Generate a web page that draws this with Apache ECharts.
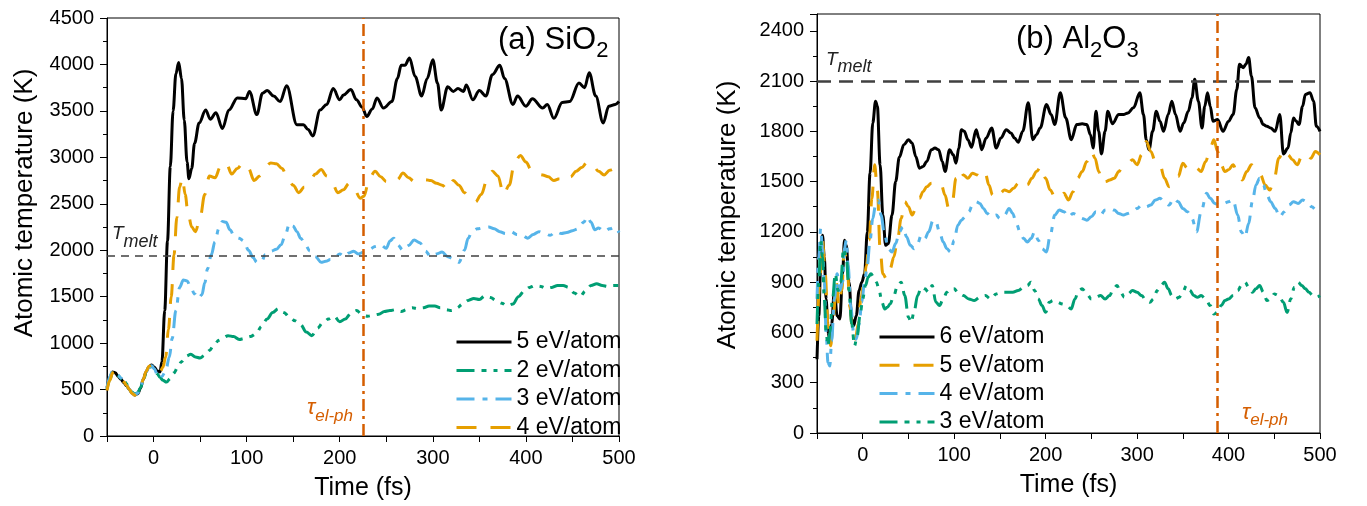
<!DOCTYPE html>
<html>
<head>
<meta charset="utf-8">
<title>Atomic temperature vs time</title>
<script src="https://cdn.jsdelivr.net/npm/echarts@6/dist/echarts.min.js"></script>
<style>
  html, body { margin: 0; padding: 0; background: #fff; }
  #chart { width: 1367px; height: 506px; }
</style>
</head>
<body>
<div id="chart"></div>
<script>
// ---- (a) SiO2 : [time (fs), atomic temperature (K)] ----
const sio2_5eV = [[-50,520],[-47,630],[-44,690],[-41,680],[-38,640],[-35,610],[-32,575],[-29,540],[-26,500],[-23,460],[-20,442],[-17,455],[-14,515],[-11,610],[-8,690],[-5,745],[-2,764],[1,740],[4,700],[7,690],[9,800],[12,1350],[15,2100],[18,2900],[21,3500],[24,3900],[27,4020],[30,3850],[33,3400],[36,2950],[38,2770],[41,2880],[44,3150],[49,3370],[56,3510],[61,3410],[67,3480],[74,3310],[81,3510],[90,3640],[99,3630],[103,3710],[111,3460],[117,3690],[122,3720],[129,3660],[136,3600],[143,3770],[154,3350],[161,3350],[166,3300],[171,3230],[179,3510],[186,3570],[193,3740],[200,3620],[204,3670],[212,3730],[218,3620],[224,3540],[229,3440],[235,3520],[240,3640],[247,3530],[256,3600],[262,3850],[266,3990],[270,3990],[275,4070],[281,3870],[288,3660],[294,3850],[300,4050],[305,3800],[309,3510],[316,3760],[322,3710],[327,3740],[333,3710],[336,3780],[343,3620],[350,3720],[357,3660],[364,3890],[372,3990],[377,3850],[386,3570],[391,3660],[400,3550],[407,3630],[418,3530],[423,3570],[430,3420],[439,3590],[447,3600],[457,3800],[463,3750],[468,3910],[475,3660],[483,3370],[489,3550],[496,3570],[500,3600]];
const sio2_2eV = [[-50,500],[-47,610],[-44,680],[-41,690],[-38,650],[-35,620],[-32,630],[-29,560],[-26,510],[-23,470],[-20,450],[-17,465],[-14,520],[-11,600],[-8,680],[-5,735],[-2,750],[1,720],[4,670],[7,630],[10,600],[14,580],[18,620],[22,680],[26,740],[30,800],[35,860],[40,880],[45,850],[50,840],[55,870],[60,920],[65,980],[70,1030],[75,1060],[80,1080],[86,1070],[92,1040],[98,1050],[104,1070],[110,1100],[116,1180],[122,1260],[128,1330],[134,1370],[140,1330],[146,1280],[152,1240],[158,1200],[164,1120],[170,1080],[176,1160],[182,1220],[188,1260],[194,1290],[200,1230],[206,1260],[212,1320],[218,1350],[224,1310],[230,1290],[236,1300],[242,1310],[248,1340],[254,1350],[260,1360],[266,1340],[272,1360],[278,1380],[284,1370],[290,1380],[296,1400],[302,1400],[308,1380],[314,1360],[320,1350],[326,1380],[332,1420],[338,1460],[344,1480],[350,1470],[356,1510],[362,1490],[368,1460],[374,1430],[380,1400],[386,1420],[392,1500],[398,1560],[404,1600],[410,1620],[416,1610],[422,1590],[428,1600],[434,1620],[440,1620],[446,1600],[452,1540],[458,1500],[464,1560],[470,1620],[476,1640],[482,1620],[488,1610],[494,1620],[500,1620]];
const sio2_3eV = [[-50,510],[-47,640],[-44,700],[-41,680],[-38,650],[-35,625],[-32,590],[-29,545],[-26,500],[-23,462],[-20,445],[-17,460],[-14,520],[-11,610],[-8,690],[-5,740],[-2,755],[1,720],[4,660],[7,620],[9,640],[13,700],[17,850],[20,1050],[24,1350],[28,1600],[32,1680],[36,1670],[40,1600],[44,1530],[48,1480],[52,1520],[55,1650],[58,1800],[62,1950],[66,2090],[70,2230],[74,2310],[78,2300],[82,2220],[87,2150],[92,2130],[97,2100],[102,2000],[107,1920],[111,1870],[116,1880],[120,1950],[126,1990],[132,2010],[137,2060],[142,2180],[146,2290],[150,2260],[154,2200],[158,2130],[163,2060],[168,1990],[174,1930],[180,1870],[185,1880],[190,1900],[195,1930],[200,1960],[205,1930],[210,1970],[215,1990],[220,1960],[226,1980],[232,2010],[238,2040],[244,2060],[250,2020],[254,2100],[258,2130],[262,2060],[268,2000],[274,2050],[280,2110],[286,2080],[292,1990],[298,1930],[304,1960],[310,1980],[316,1930],[322,1910],[328,1870],[334,2000],[338,2130],[342,2200],[348,2230],[354,2240],[360,2250],[366,2230],[372,2200],[378,2180],[384,2200],[390,2170],[396,2160],[402,2130],[408,2170],[414,2200],[420,2180],[426,2160],[432,2200],[438,2180],[444,2190],[450,2210],[456,2230],[462,2300],[466,2360],[470,2300],[474,2220],[478,2240],[484,2200],[490,2230],[496,2250],[500,2190]];
const sio2_4eV = [[-50,490],[-47,600],[-44,680],[-41,690],[-38,655],[-35,620],[-32,585],[-29,545],[-26,500],[-23,458],[-20,440],[-17,455],[-14,515],[-11,610],[-8,695],[-5,750],[-2,765],[1,745],[4,700],[7,690],[10,740],[13,850],[16,1150],[19,1500],[22,1950],[25,2350],[28,2680],[31,2780],[34,2600],[37,2400],[41,2250],[45,2200],[50,2350],[55,2600],[60,2800],[66,2780],[72,2900],[78,2940],[84,2820],[90,2880],[96,2940],[102,2880],[108,2750],[114,2800],[120,2900],[126,2940],[132,2930],[138,2880],[144,2780],[150,2700],[156,2620],[162,2680],[168,2750],[174,2820],[180,2870],[186,2800],[192,2720],[198,2620],[204,2650],[210,2720],[216,2650],[222,2560],[226,2580],[232,2780],[238,2850],[244,2790],[250,2740],[256,2720],[262,2760],[268,2830],[274,2780],[280,2740],[286,2740],[292,2760],[298,2750],[304,2720],[310,2700],[316,2650],[322,2750],[328,2700],[334,2620],[340,2560],[346,2520],[352,2600],[358,2750],[364,2850],[370,2800],[376,2600],[382,2700],[388,2950],[394,3020],[400,2950],[406,2860],[412,2820],[418,2810],[424,2790],[430,2750],[436,2770],[442,2820],[448,2790],[454,2850],[460,2890],[466,2950],[472,2910],[478,2850],[484,2810],[490,2860],[496,2880],[500,2870]];

// ---- (b) Al2O3 : [time (fs), atomic temperature (K)] ----
const al2o3_6eV = [[-50,440],[-48,700],[-46,1000],[-44,1180],[-42,1050],[-40,800],[-38,600],[-36,560],[-34,650],[-31,850],[-28,700],[-25,680],[-22,950],[-20,1150],[-18,1120],[-15,900],[-12,680],[-10,640],[-7,700],[-4,850],[-1,900],[2,950],[5,1200],[8,1550],[11,1850],[14,1980],[16,1950],[19,1600],[22,1300],[25,1120],[28,1130],[32,1300],[36,1500],[40,1645],[45,1720],[50,1750],[54,1730],[58,1650],[62,1580],[66,1590],[70,1620],[75,1690],[79,1700],[83,1690],[87,1620],[90,1560],[95,1690],[99,1660],[102,1610],[105,1700],[108,1810],[111,1800],[115,1750],[119,1705],[124,1810],[127,1760],[130,1690],[135,1760],[141,1820],[146,1700],[151,1760],[157,1810],[162,1790],[166,1760],[170,1735],[175,1800],[181,1970],[186,1750],[190,1780],[194,1820],[201,1960],[206,1900],[210,1840],[216,2030],[222,1880],[228,1750],[234,1840],[240,1845],[245,1840],[249,1780],[252,1700],[255,1920],[258,1800],[261,1665],[265,1800],[268,1920],[273,1845],[280,1900],[285,1900],[290,1910],[296,1940],[303,2030],[307,1900],[310,1750],[313,1690],[317,1800],[321,1920],[325,1860],[329,1800],[334,1900],[338,1980],[342,1900],[347,1800],[351,1850],[356,1920],[360,2000],[363,2110],[367,1980],[371,1820],[374,1950],[377,2030],[380,1950],[383,1860],[388,1870],[394,1800],[400,1860],[405,1900],[409,2050],[412,2200],[416,2180],[419,2200],[422,2240],[425,2130],[429,1940],[434,1880],[438,1840],[442,1830],[446,1820],[451,1800],[456,1900],[460,1665],[465,1700],[468,1790],[471,1880],[474,1860],[477,1840],[481,1950],[484,2020],[489,2030],[493,1980],[496,1830],[500,1800]];
const al2o3_5eV = [[-50,550],[-47,900],[-44,1150],[-41,950],[-38,650],[-35,520],[-32,700],[-29,900],[-26,760],[-23,850],[-20,1100],[-17,1000],[-14,750],[-11,600],[-8,560],[-5,650],[-2,800],[1,900],[4,1000],[7,1150],[10,1400],[13,1600],[16,1450],[19,1100],[22,950],[26,920],[30,980],[34,1050],[38,1150],[42,1280],[46,1380],[50,1350],[54,1300],[58,1340],[62,1400],[66,1440],[70,1470],[75,1490],[80,1500],[86,1480],[90,1420],[94,1340],[98,1380],[102,1520],[106,1570],[110,1540],[115,1520],[120,1550],[125,1540],[130,1520],[134,1550],[138,1480],[142,1420],[146,1400],[150,1430],[155,1450],[160,1440],[165,1460],[170,1490],[175,1510],[180,1480],[185,1520],[190,1560],[195,1590],[200,1520],[205,1450],[210,1410],[215,1400],[220,1430],[225,1390],[230,1440],[235,1520],[240,1560],[245,1620],[250,1680],[254,1640],[258,1560],[262,1490],[266,1500],[270,1510],[275,1520],[280,1560],[285,1600],[290,1610],[295,1630],[300,1600],[305,1660],[310,1740],[315,1680],[320,1620],[325,1600],[330,1520],[335,1470],[340,1480],[345,1530],[350,1610],[355,1580],[360,1600],[365,1580],[370,1560],[375,1620],[380,1700],[384,1750],[388,1680],[392,1600],[396,1560],[400,1570],[405,1600],[410,1540],[415,1510],[420,1560],[425,1600],[430,1570],[435,1540],[440,1480],[445,1450],[450,1520],[455,1640],[460,1690],[465,1660],[470,1630],[475,1600],[480,1650],[485,1670],[490,1640],[495,1680],[500,1660]];
const al2o3_4eV = [[-50,800],[-48,1050],[-46,1220],[-44,1100],[-42,900],[-40,600],[-38,420],[-36,400],[-34,550],[-31,800],[-28,950],[-25,850],[-22,900],[-20,1100],[-18,1150],[-16,1000],[-13,750],[-10,600],[-7,560],[-4,650],[-1,780],[2,900],[5,1000],[8,1150],[11,1280],[14,1360],[17,1390],[20,1300],[24,1180],[28,1100],[32,1080],[36,1130],[40,1200],[44,1230],[48,1170],[52,1120],[56,1100],[60,1130],[64,1180],[68,1160],[72,1200],[77,1270],[80,1260],[84,1200],[88,1140],[92,1100],[96,1080],[100,1150],[104,1240],[108,1270],[112,1290],[116,1320],[120,1360],[124,1380],[128,1370],[132,1340],[136,1310],[141,1290],[146,1300],[150,1280],[155,1300],[160,1340],[164,1310],[168,1250],[172,1200],[176,1160],[180,1140],[184,1160],[188,1200],[192,1150],[196,1100],[201,1080],[205,1180],[210,1300],[215,1330],[220,1320],[225,1290],[230,1310],[235,1300],[240,1280],[245,1270],[250,1290],[255,1320],[260,1300],[265,1330],[270,1340],[275,1330],[280,1310],[285,1300],[290,1310],[295,1320],[300,1340],[305,1360],[310,1350],[315,1360],[320,1390],[325,1400],[330,1380],[335,1360],[340,1400],[345,1380],[350,1340],[355,1320],[360,1280],[365,1200],[370,1320],[376,1430],[380,1400],[385,1370],[390,1360],[395,1370],[400,1380],[405,1390],[410,1300],[414,1200],[418,1170],[422,1250],[426,1380],[430,1480],[434,1520],[438,1480],[442,1420],[446,1380],[451,1340],[456,1290],[461,1320],[466,1360],[471,1380],[476,1370],[481,1390],[486,1380],[491,1350],[496,1330],[500,1340]];
const al2o3_3eV = [[-50,650],[-48,900],[-46,1150],[-44,1050],[-42,800],[-40,600],[-38,520],[-36,600],[-33,800],[-30,950],[-27,850],[-24,900],[-21,1100],[-18,1050],[-15,850],[-12,650],[-9,520],[-6,580],[-3,700],[0,800],[3,880],[6,930],[9,950],[12,930],[15,900],[18,850],[21,780],[24,740],[27,750],[30,770],[34,820],[38,880],[42,900],[46,820],[50,690],[53,660],[56,720],[60,820],[64,870],[68,860],[72,840],[76,880],[80,780],[84,760],[88,800],[92,840],[96,860],[100,860],[104,840],[110,820],[116,800],[122,790],[128,810],[134,820],[140,800],[146,830],[152,840],[158,840],[164,840],[170,850],[176,870],[180,880],[184,900],[188,850],[192,800],[196,760],[200,720],[204,780],[208,790],[213,780],[218,770],[223,760],[228,740],[232,800],[236,850],[240,860],[245,830],[250,800],[255,810],[260,820],[265,800],[270,820],[274,860],[278,880],[282,840],[286,810],[290,830],[295,850],[300,840],[305,820],[310,790],[314,780],[318,800],[322,850],[326,880],[330,900],[334,860],[338,820],[342,800],[346,810],[350,840],[354,880],[358,850],[362,820],[366,810],[370,820],[375,800],[380,760],[384,710],[388,720],[392,760],[396,790],[400,800],[405,820],[410,850],[414,880],[418,900],[422,870],[426,840],[430,860],[434,880],[438,840],[442,790],[446,800],[450,830],[455,820],[460,780],[464,720],[468,800],[472,870],[476,900],[480,880],[484,860],[488,840],[492,820],[496,810],[500,820]];

// reference levels
const meltSiO2 = 1940;      // K
const meltAl2O3 = 2100;     // K
const tauElPhSiO2 = 225;    // fs
const tauElPhAl2O3 = 388;   // fs

const FONT = "'Liberation Sans', Arial, Helvetica, sans-serif";
const C = { black: '#000000', orange: '#E69F00', blue: '#56B4E9', green: '#009E73', tau: '#D55E00', melt: '#404040' };

const STYLE = {
  solid:  { color: C.black,  type: 'solid' },
  dash:   { color: C.orange, type: [20, 14] },
  dashDot:{ color: C.blue,   type: [18, 8, 5, 8] },
  dashDotDot: { color: C.green, type: [18, 7, 5, 7, 4, 7] }
};

function curve(name, data, style, idx) {
  return {
    name, type: 'line', data,
    xAxisIndex: idx, yAxisIndex: idx,
    symbol: 'none', showSymbol: false,
    smooth: 0.35, smoothMonotone: 'x',
    lineStyle: { width: 3, color: style.color, type: style.type },
    itemStyle: { color: style.color },
    emphasis: { disabled: true }
  };
}

function refLines(meltT, tau, meltStyle) {
  return {
    silent: true,
    symbol: ['none', 'none'],
    label: { show: false },
    animation: false,
    data: [
      { yAxis: meltT, lineStyle: meltStyle },
      { xAxis: tau, lineStyle: { color: C.tau, width: 2.5, type: [12, 5, 3, 5] } }
    ]
  };
}

function xAxisFor(idx) {
  return {
    gridIndex: idx, type: 'value', min: -50, max: 500, interval: 50,
    name: 'Time (fs)', nameLocation: 'middle', nameGap: 40,
    nameTextStyle: { fontSize: 25, color: '#000', fontFamily: FONT },
    axisLine: { show: true, onZero: false, lineStyle: { color: '#000', width: 1 } },
    axisTick: { show: true, length: 6, lineStyle: { color: '#000', width: 1 } },
    axisLabel: { fontSize: 20, color: '#000', fontFamily: FONT, margin: 12,
                 formatter: v => (v % 100 === 0 ? String(v) : '') },
    splitLine: { show: false }
  };
}

function yAxisFor(idx, max, step, lastLabel) {
  return {
    gridIndex: idx, type: 'value', min: 0, max, interval: step,
    axisLine: { show: true, onZero: false, lineStyle: { color: '#000', width: 1 } },
    axisTick: { show: true, length: 7, lineStyle: { color: '#000', width: 1 } },
    minorTick: { show: true, splitNumber: 2, length: 4, lineStyle: { color: '#000', width: 1 } },
    axisLabel: { fontSize: 20, color: '#000', fontFamily: FONT, margin: 13,
                 formatter: v => (v <= lastLabel ? String(v) : '') },
    splitLine: { show: false }, minorSplitLine: { show: false }
  };
}

const leftSeries = [
  Object.assign(curve('SiO₂ 5 eV/atom', sio2_5eV, STYLE.solid, 0),
    { markLine: refLines(meltSiO2, tauElPhSiO2, { color: C.melt, width: 1.5, type: [8, 6] }) }),
  curve('SiO₂ 2 eV/atom', sio2_2eV, STYLE.dashDotDot, 0),
  curve('SiO₂ 3 eV/atom', sio2_3eV, STYLE.dashDot, 0),
  curve('SiO₂ 4 eV/atom', sio2_4eV, STYLE.dash, 0)
];
const rightSeries = [
  Object.assign(curve('Al₂O₃ 6 eV/atom', al2o3_6eV, STYLE.solid, 1),
    { markLine: refLines(meltAl2O3, tauElPhAl2O3, { color: C.melt, width: 2.5, type: [14, 8] }) }),
  curve('Al₂O₃ 5 eV/atom', al2o3_5eV, STYLE.dash, 1),
  curve('Al₂O₃ 4 eV/atom', al2o3_4eV, STYLE.dashDot, 1),
  curve('Al₂O₃ 3 eV/atom', al2o3_3eV, STYLE.dashDotDot, 1)
];

// legend rows show only the line sample (the marker dot is made invisible)
const legendBase = {
  orient: 'vertical', itemWidth: 55, itemHeight: 14, selectedMode: false,
  textStyle: { fontSize: 23, lineHeight: 24, color: '#000', fontFamily: FONT },
  lineStyle: { width: 3 },
  itemStyle: { opacity: 0, color: 'rgba(0,0,0,0)', borderWidth: 0 },
  formatter: name => name.replace(/^\S+\s/, '')
};

// text width helper so subscripts sit right after their base text
const measureCtx = document.createElement('canvas').getContext('2d');
function textWidth(text, font) { measureCtx.font = font; return measureCtx.measureText(text).width; }
const fnt = (size) => size + 'px ' + FONT;
const ital = (size) => 'italic ' + size + 'px ' + FONT;

function txt(text, x, y, font, opts) {
  return {
    type: 'text', x, y, silent: true,
    style: Object.assign({ text, fill: '#000', font, align: 'left', verticalAlign: 'middle' }, opts || {})
  };
}
// a run of [text, font, dy] pieces laid out left to right from x
function run(pieces, x, y, fill) {
  const out = [];
  let cx = x;
  pieces.forEach(([t, f, dy]) => {
    out.push(txt(t, cx, y + dy, f, { fill }));
    cx += textWidth(t, f);
  });
  return out;
}

const graphics = [
  Object.assign(txt('Atomic temperature (K)', 25, 203, fnt(26), { align: 'center' }), { rotation: Math.PI / 2 }),
  Object.assign(txt('Atomic temperature (K)', 728, 215, fnt(26), { align: 'center' }), { rotation: Math.PI / 2 })
]
  .concat(run([['(a) SiO', fnt(31), 0], ['2', fnt(22), 11]], 498, 40, '#000'))
  .concat(run([['(b) Al', fnt(31), 0], ['2', fnt(22), 12], ['O', fnt(31), 0], ['3', fnt(22), 12]], 1016, 39, '#000'))
  .concat(run([['T', ital(19), 0], ['melt', ital(18), 8]], 112, 234, '#222'))
  .concat(run([['T', ital(19), 0], ['melt', ital(18), 7]], 826, 60, '#222'))
  .concat(run([['τ', ital(22), 0], ['el-ph', ital(17), 8]], 307, 408, C.tau))
  .concat(run([['τ', ital(22), 0], ['el-ph', ital(17), 7]], 1242, 413, C.tau));

const option = {
  backgroundColor: '#fff',
  animation: false,
  grid: [
    { left: 107, top: 18, width: 512, height: 420, show: true, borderColor: '#000', borderWidth: 1, backgroundColor: 'transparent' },
    { left: 817, top: 14, width: 503, height: 419, show: true, borderColor: '#000', borderWidth: 1, backgroundColor: 'transparent' }
  ],
  xAxis: [xAxisFor(0), xAxisFor(1)],
  yAxis: [yAxisFor(0, 4500, 500, 4500), yAxisFor(1, 2500, 300, 2400)],
  legend: [
    Object.assign({}, legendBase, { left: 450, top: 325, itemGap: 4.5,
      data: leftSeries.map(s => s.name) }),
    Object.assign({}, legendBase, { left: 873, top: 320, itemGap: 4.3,
      data: rightSeries.map(s => s.name) })
  ],
  series: leftSeries.concat(rightSeries),
  graphic: graphics
};

const chart = echarts.init(document.getElementById('chart'), null, { renderer: 'canvas' });
chart.setOption(option);
</script>
</body>
</html>
